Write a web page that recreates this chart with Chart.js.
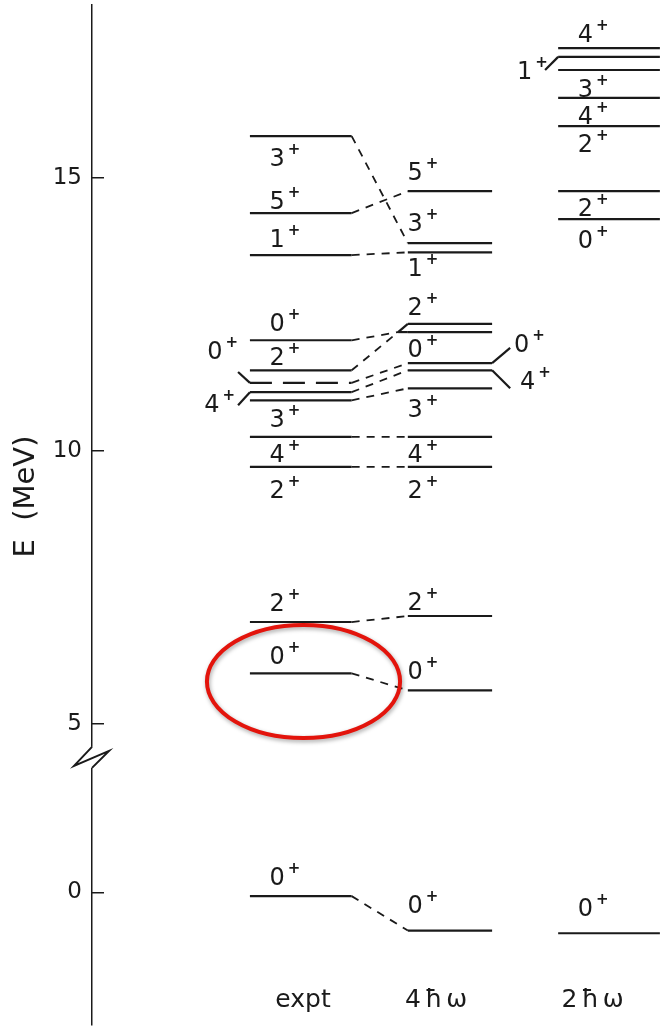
<!DOCTYPE html>
<html>
<head>
<meta charset="utf-8">
<title>Level scheme</title>
<script src="https://cdn.jsdelivr.net/npm/chart.js@4.4.1/dist/chart.umd.min.js"></script>
<style>
    html, body { margin: 0; padding: 0; background: #fff; }
    #levels { display: block; }
</style>
</head>
<body>
<canvas id="levels" width="669" height="1029"></canvas>
<script>
const columns = ['expt', '4ħω', '2ħω'];

// level energies (MeV) and J^pi
const exptE = [15.77, 14.36, 13.59, 12.03, 11.48, 11.25, 11.08, 10.93, 10.26, 9.71, 6.87, 5.93, -0.07];
const exptJ = ['3+', '5+', '1+', '0+', '2+', '0+', '4+', '3+', '4+', '2+', '2+', '0+', '0+'];
const exptLabelE = [15.38, 14.60, 13.91, 12.36, 11.74, 11.85, 10.88, 10.60, 9.96, 9.30, 7.23, 6.26, 0.29];

const th4E = [14.76, 13.81, 13.64, 12.33, 12.18, 11.61, 11.48, 11.15, 10.26, 9.71, 6.98, 5.62, -0.70];
const th4J = ['5+', '3+', '1+', '2+', '0+', '0+', '4+', '3+', '4+', '2+', '2+', '0+', '0+'];
const th4LabelE = [15.13, 14.19, 13.37, 12.66, 11.89, 11.98, 11.30, 10.79, 9.96, 9.30, 7.25, 5.99, -0.22];

const th2E = [17.38, 17.22, 16.98, 16.47, 15.95, 14.76, 14.25, -0.75];
const th2J = ['4+', '1+', '3+', '4+', '2+', '2+', '0+', '0+'];
const th2LabelE = [17.66, 16.98, 16.65, 16.15, 15.64, 14.47, 13.88, -0.275];

// expt level i is joined to 4hw level links[i]
const links = [1, 0, 2, 4, 3, 5, 6, 7, 8, 9, 10, 11, 12];
// tentative (dashed) levels per column
const tentative = [[5], [], []];

const tickE = [0, 5, 10, 15];

// broken axis: everything below the break is pulled up by SHIFT
const BREAK_V = 4.4;
const SHIFT = 1.92;
function toV(e) { return e >= BREAK_V ? e : e + SHIFT; }
function fromV(v) { return v >= BREAK_V ? v : v - SHIFT; }

// layout (x in column units, expt centred on 0)
const colSpan = [[-0.34, 0.33], [0.70, 1.255], [1.69, 2.36]];
const labelX = [-0.11, 0.80, 1.92];
const titleX = [0.01, 0.90, 1.93];
const TITLE_E = -2.1;

// bent level ends that run out to a label, or into a doublet
const leaders = [
    { col: 0, i: 5, end: 0, x: -0.418, e: 11.45, labelX: -0.52 },
    { col: 0, i: 6, end: 0, x: -0.418, e: 10.84, labelX: -0.54 },
    { col: 1, i: 5, end: 1, x: 1.374, e: 11.89, labelX: 1.50 },
    { col: 1, i: 6, end: 1, x: 1.374, e: 11.15, labelX: 1.54 },
    { col: 2, i: 1, end: 0, x: 1.604, e: 16.98, labelX: 1.52 },
    { col: 1, i: 3, end: 0, x: 0.636, e: 12.18 },
    { col: 1, i: 4, end: 0, x: 0.636, e: 12.18 }
];

const ring = { x: 0.013, e: 5.78, rx: 0.636, re: 1.035 };

const levelSets = [
    { E: exptE, J: exptJ, labelE: exptLabelE },
    { E: th4E, J: th4J, labelE: th4LabelE },
    { E: th2E, J: th2J, labelE: th2LabelE }
];

const INK = '#1a1a1a';

function levelEnd(c, i, end) {
    const l = leaders.find(k => k.col === c && k.i === i && k.end === end);
    return l ? { x: l.x, y: toV(l.e) } : { x: colSpan[c][end], y: toV(levelSets[c].E[i]) };
}

function segment(points, width, dash) {
    return {
        data: points,
        borderColor: INK,
        borderWidth: width,
        borderDash: dash || [],
        pointRadius: 0,
        fill: false,
        tension: 0,
        borderCapStyle: 'butt'
    };
}

function buildDatasets() {
    var sets = [];
    levelSets.forEach((col, c) => {
        col.E.forEach((e, i) => {
            var dash = tentative[c].indexOf(i) >= 0 ? [22, 11] : null;
            sets.push(segment([{ x: colSpan[c][0], y: toV(e) }, { x: colSpan[c][1], y: toV(e) }], 2.2, dash));
        });
    });
    leaders.forEach(l => {
        var e = levelSets[l.col].E[l.i];
        sets.push(segment([{ x: colSpan[l.col][l.end], y: toV(e) }, { x: l.x, y: toV(l.e) }], 2.2));
    });
    links.forEach((j, i) => {
        sets.push(segment([levelEnd(0, i, 1), levelEnd(1, j, 0)], 1.8, [8, 7]));
    });
    return sets;
}

function drawSpin(ctx, j, cx, cy) {
    var main = j.slice(0, -1), sup = j.slice(-1);
    ctx.font = '24px "DejaVu Sans"';
    var w1 = ctx.measureText(main).width;
    ctx.font = 'bold 15px "DejaVu Sans"';
    var w2 = ctx.measureText(sup).width;
    var x0 = cx - (w1 + 3 + w2) / 2;
    ctx.font = '24px "DejaVu Sans"';
    ctx.fillText(main, x0, cy + 9);
    ctx.font = 'bold 15px "DejaVu Sans"';
    ctx.fillText(sup, x0 + w1 + 3, cy - 3);
}

const annotate = {
    id: 'annotate',
    afterDraw(chart) {
        const { ctx, scales: { x, y } } = chart;
        ctx.save();
        ctx.fillStyle = INK;
        ctx.textAlign = 'left';
        ctx.textBaseline = 'alphabetic';

        levelSets.forEach((col, c) => {
            col.J.forEach((j, i) => {
                var side = leaders.find(l => l.col === c && l.i === i && l.labelX !== undefined);
                var lx = side ? side.labelX : labelX[c];
                drawSpin(ctx, j, x.getPixelForValue(lx), y.getPixelForValue(toV(col.labelE[i])));
            });
        });

        ctx.font = '25px "DejaVu Sans"';
        ctx.textAlign = 'center';
        columns.forEach((t, c) => {
            ctx.letterSpacing = c === 0 ? '0px' : '4px';
            ctx.fillText(t, x.getPixelForValue(titleX[c]), y.getPixelForValue(toV(TITLE_E)));
        });
        ctx.letterSpacing = '0px';

        // axis break
        var bx = chart.chartArea.left, by = y.getPixelForValue(BREAK_V);
        ctx.fillStyle = '#fff';
        ctx.fillRect(bx - 3, by - 10, 6, 21);
        ctx.strokeStyle = INK;
        ctx.lineWidth = 2;
        ctx.beginPath();
        ctx.moveTo(bx, by - 10);
        ctx.lineTo(bx - 18, by + 9);
        ctx.lineTo(bx + 17, by - 6);
        ctx.lineTo(bx, by + 11);
        ctx.stroke();

        // highlight ring
        var cx = x.getPixelForValue(ring.x), cy = y.getPixelForValue(ring.e);
        var rx = x.getPixelForValue(ring.x + ring.rx) - cx;
        var ry = cy - y.getPixelForValue(ring.e + ring.re);
        ctx.shadowColor = 'rgba(0,0,0,0.35)';
        ctx.shadowBlur = 4;
        ctx.shadowOffsetX = 1;
        ctx.shadowOffsetY = 2;
        ctx.strokeStyle = '#e3140c';
        ctx.lineWidth = 4;
        ctx.beginPath();
        ctx.ellipse(cx, cy, rx, ry, 0, 0, Math.PI * 2);
        ctx.stroke();
        ctx.restore();
    }
};

new Chart(document.getElementById('levels'), {
    type: 'line',
    data: { datasets: buildDatasets() },
    plugins: [annotate],
    options: {
        responsive: false,
        animation: false,
        events: [],
        layout: { padding: { top: 5, bottom: 4, left: 0, right: 0 } },
        plugins: {
            legend: { display: false },
            tooltip: { enabled: false }
        },
        scales: {
            x: { type: 'linear', display: false, min: -1.38, max: 2.42 },
            y: {
                type: 'linear',
                min: -0.51,
                max: 18.17,
                afterFit: s => {
                    s.width = 92;
                    s.paddingTop = 0;
                    s.paddingBottom = 0;
                },
                afterBuildTicks: s => { s.ticks = tickE.map(e => ({ value: toV(e) })); },
                ticks: {
                    padding: 22,
                    color: INK,
                    font: { family: 'DejaVu Sans', size: 23 },
                    callback: v => String(Math.round(fromV(v)))
                },
                grid: { drawOnChartArea: false, drawTicks: true, tickLength: -12, color: INK, lineWidth: 1.5 },
                border: { display: true, color: INK, width: 1.5 },
                title: {
                    display: true,
                    text: '    E  (MeV)',
                    color: INK,
                    font: { family: 'DejaVu Sans', size: 29 },
                    padding: { top: 9, bottom: 0 }
                }
            }
        }
    }
});
</script>
</body>
</html>
